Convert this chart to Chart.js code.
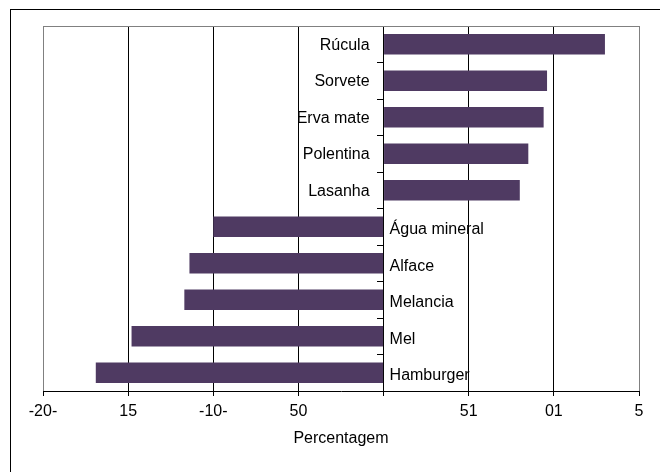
<!DOCTYPE html>
<html>
<head>
<meta charset="utf-8">
<script src="https://cdn.jsdelivr.net/npm/chart.js@4"></script>
<style>
  html, body { margin: 0; padding: 0; background: #ffffff; }
  #wrap { width: 660px; height: 472px; position: relative; }
</style>
</head>
<body>
<div id="wrap"><canvas id="c" width="660" height="472"></canvas></div>
<script>
const categories = ['Rúcula', 'Sorvete', 'Erva mate', 'Polentina', 'Lasanha', 'Água mineral', 'Alface', 'Melancia', 'Mel', 'Hamburger'];
const values = [13.0, 9.6, 9.4, 8.5, 8.0, -10.0, -11.4, -11.7, -14.8, -16.9];
const xTickLabels = ['-20-', '15', '-10-', '50', '', '51', '01', '5'];
const xTitle = 'Percentagem';

const FONT = "'Liberation Sans', Arial, sans-serif";

const framePlugin = {
  id: 'frame',
  beforeDraw(chart) {
    const ctx = chart.ctx;
    ctx.save();
    ctx.fillStyle = '#ffffff';
    ctx.fillRect(0, 0, chart.width, chart.height);
    ctx.strokeStyle = '#000000';
    ctx.lineWidth = 1;
    ctx.strokeRect(10.5, 9.5, 700, 520);
    ctx.restore();
  },
  beforeDatasetsDraw(chart) {
    const ctx = chart.ctx;
    const a = chart.chartArea;
    ctx.save();
    ctx.strokeStyle = '#808080';
    ctx.lineWidth = 1;
    ctx.beginPath();
    ctx.moveTo(a.left, Math.round(a.top) + 0.5);
    ctx.lineTo(a.right, Math.round(a.top) + 0.5);
    ctx.stroke();
    ctx.restore();
  }
};

const labelPlugin = {
  id: 'catLabels',
  afterDatasetsDraw(chart) {
    const ctx = chart.ctx;
    const xs = chart.scales.x, ys = chart.scales.y;
    const x0 = xs.getPixelForValue(0);
    ctx.save();
    ctx.font = '16px ' + FONT;
    ctx.fillStyle = '#000000';
    ctx.textBaseline = 'middle';
    categories.forEach((c, i) => {
      const y = ys.getPixelForValue(i);
      if (values[i] >= 0) {
        ctx.textAlign = 'right';
        ctx.fillText(c, x0 - 14, y + 1);
      } else {
        ctx.textAlign = 'left';
        ctx.fillText(c, x0 + 6, y + 3);
      }
    });
    ctx.restore();
  }
};

new Chart(document.getElementById('c'), {
  type: 'bar',
  data: {
    labels: categories,
    datasets: [{
      data: values,
      backgroundColor: '#4F3A62',
      borderWidth: 0,
      barPercentage: 1,
      categoryPercentage: 0.56
    }]
  },
  options: {
    indexAxis: 'y',
    responsive: false,
    animation: false,
    devicePixelRatio: 1,
    layout: { padding: { left: 43, right: 21, top: 26, bottom: 0 } },
    plugins: { legend: { display: false }, tooltip: { enabled: false } },
    scales: {
      x: {
        type: 'linear',
        min: -20,
        max: 15,
        ticks: {
          stepSize: 5,
          padding: 6,
          color: '#000000',
          font: { family: FONT, size: 16 },
          maxRotation: 0,
          autoSkip: false,
          callback: (v, i) => xTickLabels[i]
        },
        grid: {
          color: (ctx) => (ctx.tick && (ctx.tick.value === -20 || ctx.tick.value === 15)) ? '#808080' : '#000000',
          tickColor: '#000000',
          tickLength: 5,
          lineWidth: 1
        },
        border: { color: '#000000', width: 1 },
        title: {
          display: true,
          text: xTitle,
          color: '#000000',
          font: { family: FONT, size: 16 },
          padding: { top: 0, bottom: 24 }
        },
        afterFit: (s) => { s.height = 81; }
      },
      y: {
        position: { x: 0 },
        ticks: { display: false },
        grid: {
          drawOnChartArea: false,
          drawTicks: true,
          tickLength: 6,
          color: '#000000',
          tickColor: '#000000'
        },
        border: { color: '#000000', width: 1 }
      }
    }
  },
  plugins: [framePlugin, labelPlugin]
});
</script>
</body>
</html>
